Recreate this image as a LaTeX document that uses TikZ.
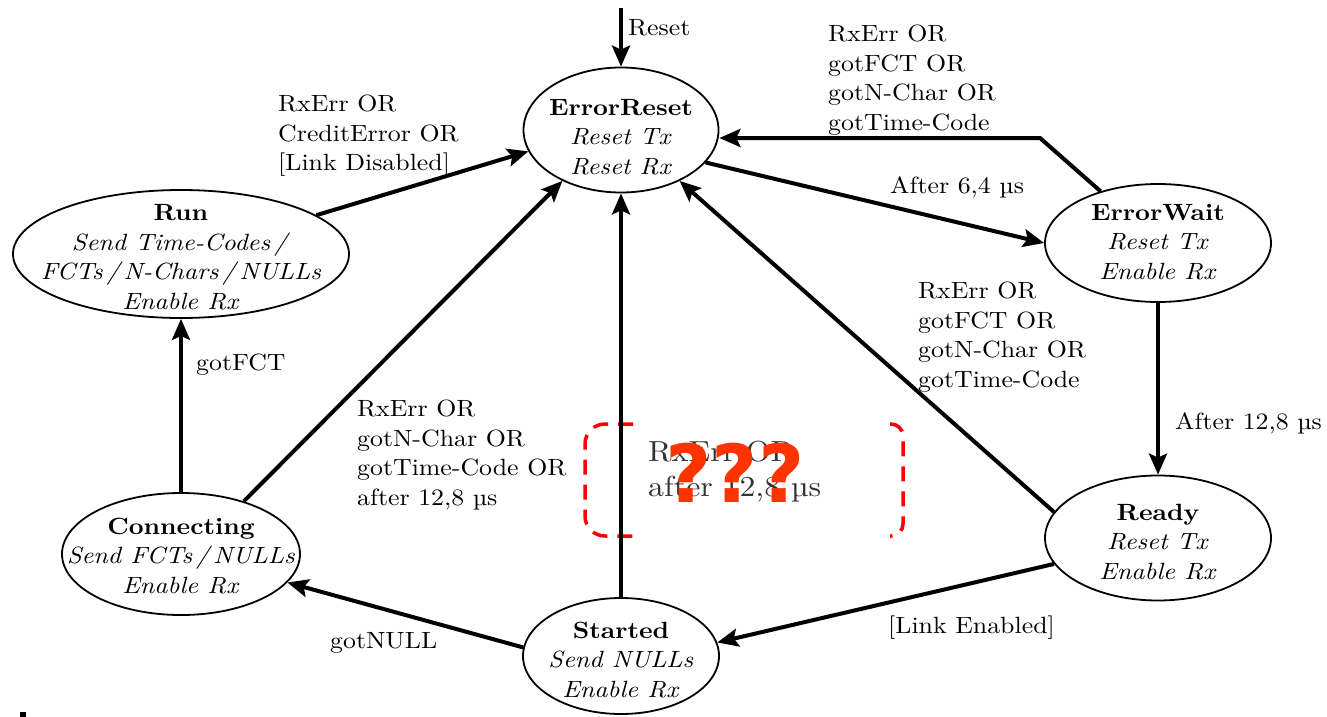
\documentclass[tikz,border=0pt]{standalone}
\usepackage{fontspec}
\setmainfont{lmroman10}[Extension=.otf, UprightFont=*-regular, BoldFont=*-bold, ItalicFont=*-italic, BoldItalicFont=*-bolditalic, FakeStretch=1.1]
\newfontfamily\qfont{DejaVu Sans}
\usetikzlibrary{shapes.geometric, arrows.meta}
\definecolor{qcol}{RGB}{255,51,0}
\newcommand{\fsz}{\fontsize{23.5}{29.5}\selectfont}
\newcommand{\fbig}{\fontsize{29}{35}\selectfont}
\tikzset{
  statebox/.style={ellipse, draw, line width=1.8pt, inner sep=0pt},
  stxt/.style={align=center, font=\fsz, inner sep=0pt},
  lbl/.style={align=left, font=\fsz, inner sep=0pt},
  tr/.style={line width=4pt, -{Stealth[length=21pt,width=18pt,inset=4pt]}},
  brk/.style={draw=red, line width=3.5pt, dash pattern=on 15pt off 10pt},
}
\begin{document}
\begin{tikzpicture}[x=1pt, y=-1pt]
\useasboundingbox (0,0) rectangle (1327,717);
% states
\node[statebox, minimum width=195pt, minimum height=125pt] (er) at (621,130) {};
\node[statebox, minimum width=336pt, minimum height=128pt] (run) at (181,254) {};
\node[statebox, minimum width=238pt, minimum height=122pt] (conn) at (181,554) {};
\node[statebox, minimum width=196pt, minimum height=116pt] (stt) at (621,656) {};
\node[statebox, minimum width=226pt, minimum height=118pt] (ew) at (1158,243) {};
\node[statebox, minimum width=226pt, minimum height=125pt] (rd) at (1158,538) {};
% state texts
\node[stxt] (ert) at (621,137) {\textbf{ErrorReset}\\\textit{Reset Tx}\\\textit{Reset Rx}};
\node[stxt] (runt) at (181,257) {\textbf{Run}\\\textit{Send Time-Codes\,/}\\\textit{FCTs\,/\,N-Chars\,/\,NULLs}\\\textit{Enable Rx}};
\node[stxt] (connt) at (181,556) {\textbf{Connecting}\\\textit{Send FCTs\,/\,NULLs}\\\textit{Enable Rx}};
\node[stxt] (sttt) at (621,660) {\textbf{Started}\\\textit{Send NULLs}\\\textit{Enable Rx}};
\node[stxt] (ewt) at (1158,242) {\textbf{ErrorWait}\\\textit{Reset Tx}\\\textit{Enable Rx}};
\node[stxt] (rdt) at (1158,542) {\textbf{Ready}\\\textit{Reset Tx}\\\textit{Enable Rx}};
% red brackets
\draw[brk, rounded corners=20pt] (633,424) -- (585,424) -- (585,536) -- (633,536);
\draw[brk, rounded corners=12pt] (890,424) -- (903,424) -- (903,536) -- (890,536);
% transitions
\coordinate (rst) at (621,8);
\draw[tr] (rst) -- (er.north);
\draw[tr] (run.16) -- (er.193);
\coordinate (cor) at (1040,138);
\draw[tr] (ew.138) -- (cor) -- (cor -| er.east);
\draw[tr] (er.-21) -- (ew.west);
\draw[tr] (ew.south) -- (rd.north);
\draw[tr] (rd.166) -- (er.-41);
\draw[tr] (rd.194) -- (stt.8);
\draw[tr] (stt.north) -- (er.south);
\draw[tr] (stt.175) -- (conn.-15);
\draw[tr] (conn.north) -- (run.south);
\draw[tr] (conn.40) -- (er.221);
% labels
\node[lbl, anchor=west] (lreset) at (628,28) {Reset};
\node[lbl, anchor=north west] (l1) at (278,95) {RxErr OR\\CreditError OR\\{[}Link Disabled{]}};
\node[lbl, anchor=north west] (l2) at (828,25) {RxErr OR\\gotFCT OR\\gotN-Char OR\\gotTime-Code};
\node[lbl, anchor=west] (l3) at (890,187) {After 6,4 µs};
\node[lbl, anchor=west] (l4) at (1175,423) {After 12,8 µs};
\node[lbl, anchor=north west] (l5) at (918,282) {RxErr OR\\gotFCT OR\\gotN-Char OR\\gotTime-Code};
\node[lbl, anchor=west] (l6) at (888,628) {{[}Link Enabled{]}};
\node[lbl, anchor=west] (l7) at (330,643) {gotNULL};
\node[lbl, anchor=west] (l8) at (196,365) {gotFCT};
\node[lbl, anchor=north west] (l9) at (357,400) {RxErr OR\\gotN-Char OR\\gotTime-Code OR\\after 12,8 µs};
\node[lbl, anchor=north west, font=\fbig, text=black!80] (l10) at (648,441) {RxErr OR\\after 12,8 µs};
\node[inner sep=0pt, text=qcol, font={\qfont\bfseries\fontsize{80}{80}\selectfont}] (qq) at (735,473) {???};
\fill (20,712) rectangle (26,717);
\end{tikzpicture}
\end{document}
